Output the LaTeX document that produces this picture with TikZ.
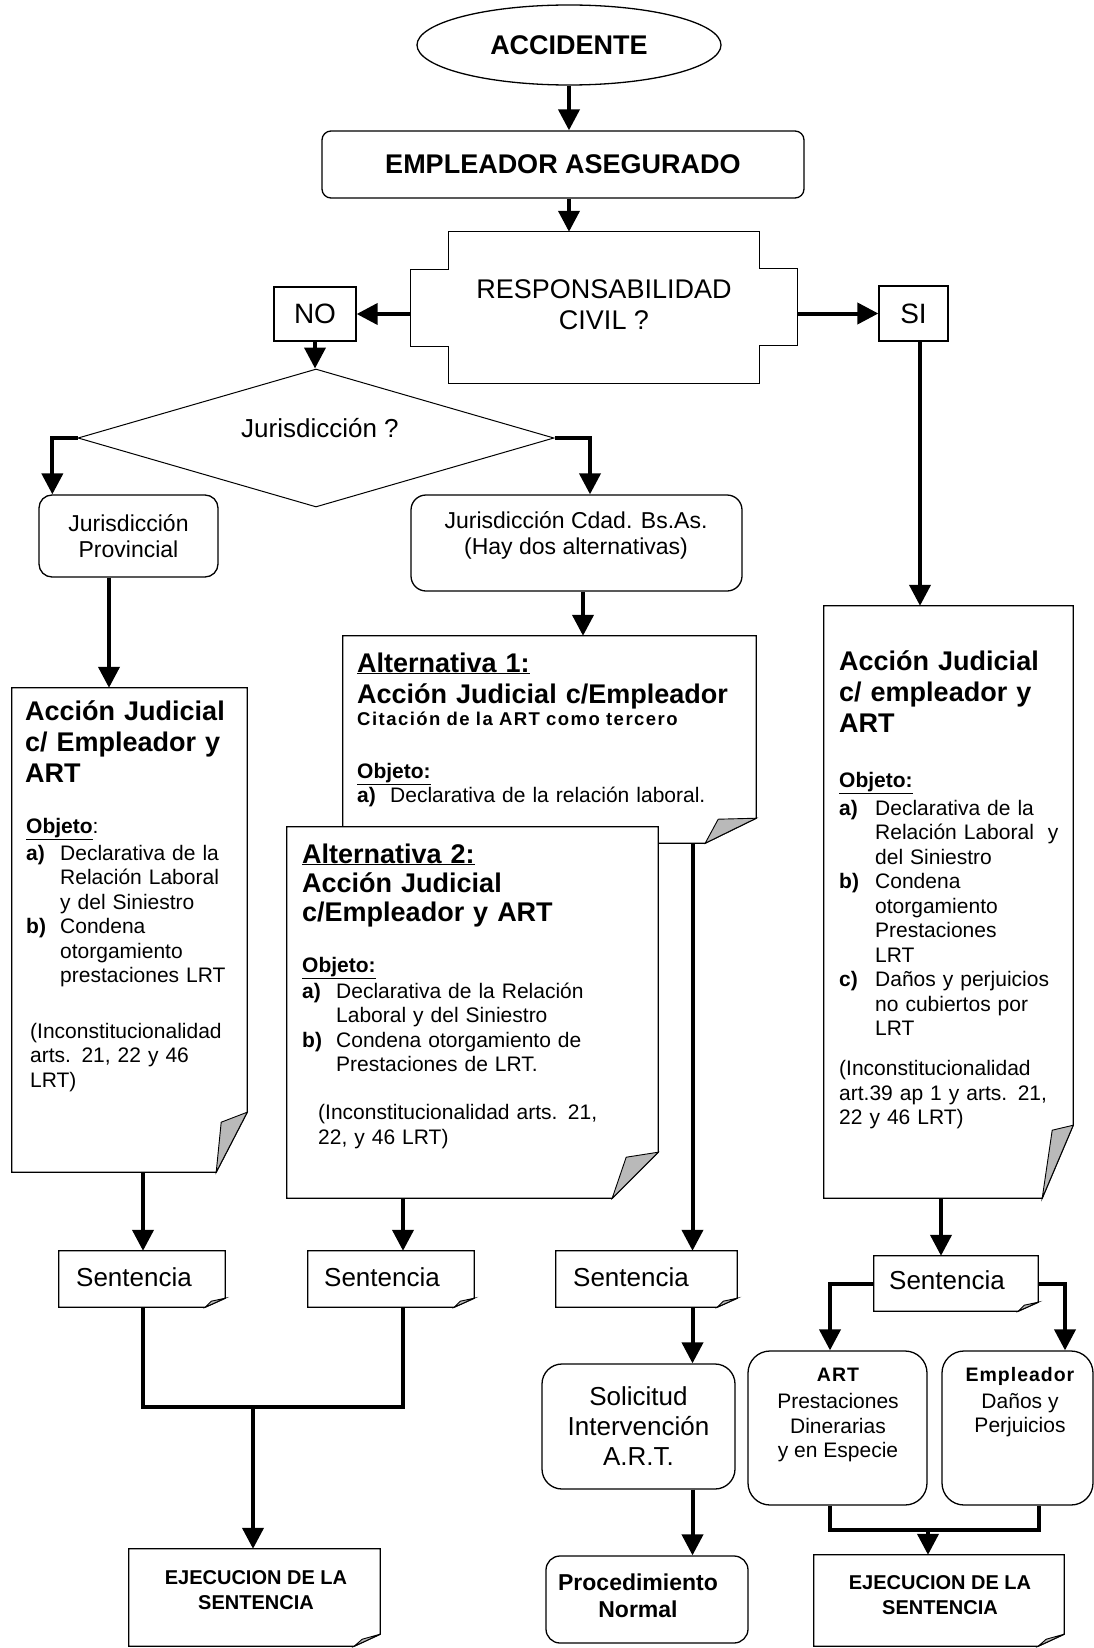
\documentclass[tikz,border=0pt]{standalone}
\usepackage{fontspec}
\setmainfont{Liberation Sans}
\usetikzlibrary{arrows.meta,shapes.geometric}

\newlength{\itemind}
\newcommand{\fsz}[2]{\fontsize{#1pt}{#2pt}\selectfont}
\newcommand{\itm}[1]{\makebox[\itemind][l]{\bfseries #1}}
\newcommand{\itmind}{\hspace*{\itemind}}
% sheet outline with a curled lower right corner:
% node, fold width, fold height, flap tip dx, flap tip dy
\newcommand{\docframe}[5]{%
  \draw[bline,fill=white] (#1.north west) -- (#1.north east)
    -- ([yshift=#3pt]#1.south east) -- ([xshift=-#2pt]#1.south east)
    -- (#1.south west) -- cycle;
  \draw[flap] ([xshift=-#2pt]#1.south east) -- ([shift={(#4,#5)}]#1.south east)
    -- ([yshift=#3pt]#1.south east) -- cycle;
}

\begin{document}
\begin{tikzpicture}[x=1pt,y=-1pt,
  bline/.style={line width=1.3pt,draw=black},
  flap/.style={line width=0.9pt,draw=black,fill=gray!55},
  conn/.style={line width=4pt,-{Triangle[length=21pt,width=21pt]}},
  joinline/.style={line width=4pt},
  box/.style={bline,fill=white,inner sep=0pt,align=center},
  rbox/.style={box,rounded corners=#1},
  rbox/.default=10pt,
  holder/.style={inner sep=0pt},
  lbl/.style={inner sep=0pt,align=center},
  blk/.style={inner sep=0pt,anchor=base west,text width=#1,align=left},
  ttl/.style={font=\fsz{27}{31}\bfseries},
  bod/.style={font=\fsz{21}{24.5}},
]
\useasboundingbox (0,0) rectangle (1094,1648);
\fill[white] (0,0) rectangle (1094,1648);

% ---------- top of the chart ----------
\node[box,ellipse,minimum width=304pt,minimum height=80pt,font=\fsz{27}{30}\bfseries] (acc) at (569,45) {ACCIDENTE};
\node[rbox=9pt,minimum width=482pt,minimum height=67pt,font=\fsz{27}{30}\bfseries] (emp) at (563,164.5) {EMPLEADOR ASEGURADO};

\node[holder,minimum width=386pt,minimum height=151pt] (resp) at (604,307.5) {};
\draw[bline,fill=white] ([xshift=38pt]resp.north west) -- ([xshift=-38pt]resp.north east)
  -- ++(0,37) -- ++(38,0) -- ++(0,77) -- ++(-38,0)
  -- ([xshift=-38pt]resp.south east) -- ([xshift=38pt]resp.south west)
  -- ++(0,-37) -- ++(-38,0) -- ++(0,-77) -- ++(38,0) -- cycle;
\node[lbl,font=\fsz{27}{31}] (resptxt) at (604,305) {RESPONSABILIDAD\\CIVIL ?};

\node[box,minimum width=82pt,minimum height=54pt,font=\fsz{28}{32}] (no) at (315,314) {NO};
\node[box,minimum width=69pt,minimum height=55pt,font=\fsz{28}{32}] (si) at (913.5,313.5) {SI};

\node[draw,diamond,line width=1pt,minimum width=476pt,minimum height=138pt,inner sep=0pt] (diam) at (316,438) {};
\node[lbl,font=\fsz{26}{30}] (diamtxt) at (320,428) {Jurisdicción ?};

\node[rbox=13pt,minimum width=179pt,minimum height=82pt,font=\fsz{23}{26}] (prov) at (128.5,536) {Jurisdicción\\Provincial};
\node[rbox=15pt,minimum width=331pt,minimum height=96pt] (cdad) at (576.5,543) {};
\node[lbl,font=\fsz{23}{26}] (cdadtxt) at (576,535) {Jurisdicción Cdad. Bs.As.\\(Hay dos alternativas)};

% ---------- sheets ----------
\node[holder,minimum width=235pt,minimum height=484pt] (ldoc) at (129.5,930) {};
\node[holder,minimum width=413pt,minimum height=207pt] (alt1) at (549.5,739.5) {};
\node[holder,minimum width=371pt,minimum height=371pt] (alt2) at (472.5,1012.5) {};
\node[holder,minimum width=249pt,minimum height=592pt] (rdoc) at (948.5,902) {};

\docframe{ldoc}{31}{60}{-26}{-50}
\node[blk=225pt,ttl] (ldoct) at (25,720) {Acción Judicial\\c/ Empleador y\\ART};
\node[blk=225pt,bod] (ldocb) at (26,833) {\setlength{\itemind}{34pt}%
\textbf{\underline{Objeto}}:\\[2.5pt]
\itm{a)}Declarativa de la\\
\itmind Relación Laboral\\
\itmind y del Siniestro\\
\itm{b)}Condena\\
\itmind otorgamiento\\
\itmind prestaciones LRT\\[31pt]
\hspace*{4pt}(Inconstitucionalidad\\
\hspace*{4pt}arts. 21, 22 y 46\\
\hspace*{4pt}LRT)};

\docframe{alt1}{51}{25}{-38}{-24}
\node[blk=400pt,ttl] (alt1t) at (357,672) {\underline{Alternativa 1:}\\Acción Judicial c/Empleador};
\node[blk=390pt,font=\fsz{18.5}{20}\bfseries\addfontfeature{LetterSpace=8}] (alt1c) at (357,725) {Citación de la ART como tercero};
\node[blk=390pt,bod] (alt1b) at (357,778) {\setlength{\itemind}{33pt}%
\textbf{\underline{Objeto:}}\\
\itm{a)}Declarativa de la relación laboral.};

\docframe{alt2}{46}{46}{-32}{-41}
\node[blk=360pt,font=\fsz{27}{29}\bfseries] (alt2t) at (302,863) {\underline{Alternativa 2:}\\Acción Judicial\\c/Empleador y ART};
\node[blk=350pt,bod] (alt2b) at (302,972) {\setlength{\itemind}{34pt}%
\textbf{\underline{Objeto:}}\\[1.5pt]
\itm{a)}Declarativa de la Relación\\
\itmind Laboral y del Siniestro\\
\itm{b)}Condena otorgamiento de\\
\itmind Prestaciones de LRT.\\[23.5pt]
\hspace*{16pt}(Inconstitucionalidad arts. 21,\\
\hspace*{16pt}22, y 46 LRT)};

\docframe{rdoc}{31}{73}{-21}{-68}
\node[blk=235pt,ttl] (rdoct) at (839,670) {Acción Judicial\\c/ empleador y\\ART};
\node[blk=235pt,bod] (rdocb) at (839,787) {\setlength{\itemind}{36pt}%
\textbf{\underline{Objeto:}}\\[3.5pt]
\itm{a)}Declarativa de la\\
\itmind Relación Laboral\ \ y\\
\itmind del Siniestro\\
\itm{b)}Condena\\
\itmind otorgamiento\\
\itmind Prestaciones\\
\itmind LRT\\
\itm{c)}Daños y perjuicios\\
\itmind no cubiertos por\\
\itmind LRT\\[15.5pt]
(Inconstitucionalidad\\
art.39 ap 1 y arts. 21,\\
22 y 46 LRT)};

% ---------- sentences ----------
\node[holder,minimum width=166pt,minimum height=56pt] (s1) at (142,1279) {};
\node[holder,minimum width=166pt,minimum height=56pt] (s2) at (391,1279) {};
\node[holder,minimum width=181pt,minimum height=56pt] (s3) at (646.5,1279) {};
\node[holder,minimum width=164pt,minimum height=55pt] (s4) at (956,1283.5) {};
\docframe{s1}{20}{9}{-14}{-6}
\docframe{s2}{20}{9}{-14}{-6}
\docframe{s3}{20}{9}{-14}{-6}
\docframe{s4}{20}{9}{-14}{-6}
\node[lbl,font=\fsz{26}{30}] (s1t) at (134,1277) {Sentencia};
\node[lbl,font=\fsz{26}{30}] (s2t) at (382,1277) {Sentencia};
\node[lbl,font=\fsz{26}{30}] (s3t) at (631,1277) {Sentencia};
\node[lbl,font=\fsz{26}{30}] (s4t) at (947,1280) {Sentencia};

% ---------- bottom row ----------
\node[holder,minimum width=251pt,minimum height=97pt] (ejl) at (254.5,1597.5) {};
\docframe{ejl}{26}{12}{-18}{-7}
\node[lbl,font=\fsz{20}{25}\bfseries] (ejlt) at (256,1590) {EJECUCION DE LA\\SENTENCIA};

\node[rbox=20pt,minimum width=193pt,minimum height=125pt,font=\fsz{26}{30}] (sol) at (638.5,1426.5) {Solicitud\\Intervención\\A.R.T.};
\node[rbox=14pt,minimum width=202pt,minimum height=87pt] (proc) at (647,1599.5) {};
\node[lbl,font=\fsz{23}{27}\bfseries] (proct) at (638,1596) {Procedimiento\\Normal};

\node[rbox=22pt,minimum width=179pt,minimum height=154pt] (artb) at (837.5,1428) {};
\node[lbl,font=\fsz{21}{24.5}] (artt) at (838,1415) {{\fsz{19.5}{24.5}\bfseries\addfontfeature{LetterSpace=5}ART}\\[2.5pt]Prestaciones\\Dinerarias\\y en Especie};
\node[rbox=22pt,minimum width=151pt,minimum height=154pt] (empb) at (1017.5,1428) {};
\node[lbl,font=\fsz{21}{24.5}] (empt) at (1020,1402) {{\fsz{19.5}{24.5}\bfseries\addfontfeature{LetterSpace=5}Empleador}\\[2.5pt]Daños y\\Perjuicios};

\node[holder,minimum width=250pt,minimum height=91pt] (ejr) at (939,1600.5) {};
\docframe{ejr}{26}{12}{-18}{-7}
\node[lbl,font=\fsz{20}{25}\bfseries] (ejrt) at (940,1595) {EJECUCION DE LA\\SENTENCIA};

\coordinate (jl) at (253,1407);
\coordinate (jr) at (928,1530);

% ---------- connectors ----------
\draw[conn] (acc.south) -- (acc.south |- emp.north);
\draw[conn] (acc.south |- emp.south) -- (acc.south |- resp.north);
\draw[conn] (resp.west |- no.east) -- (no.east);
\draw[conn] (resp.east |- si.west) -- (si.west);
\draw[conn] (no.south) -- (no.south |- diam.north);
\draw[conn] (diam.west) -| ([xshift=14pt]prov.north west);
\draw[conn] (diam.east) -| ([xshift=13.5pt]cdad.north);
\draw[conn] ([xshift=6.5pt]si.south) -- ([xshift=6.5pt]si.south |- rdoc.north);
\draw[conn] ([xshift=-19.5pt]prov.south) -- ([xshift=-19.5pt]prov.south |- ldoc.north);
\draw[conn] ([xshift=6.5pt]cdad.south) -- ([xshift=6.5pt]cdad.south |- alt1.north);
\draw[conn] ([xshift=1pt]s1.north |- ldoc.south) -- ([xshift=1pt]s1.north);
\draw[conn] ([xshift=12pt]s2.north |- alt2.south) -- ([xshift=12pt]s2.north);
\draw[conn] ([xshift=46pt]s3.north |- alt1.south) -- ([xshift=46pt]s3.north);
\draw[conn] ([xshift=-15pt]s4.north |- rdoc.south) -- ([xshift=-15pt]s4.north);
\draw[joinline] ([xshift=1pt]s1.south) |- (jl) -| ([xshift=12pt]s2.south);
\draw[conn] (jl) -- (jl |- ejl.north);
\draw[conn] ([xshift=46pt]s3.south) -- ([xshift=46pt]s3.south |- sol.north);
\draw[conn] ([xshift=46pt]s3.south |- sol.south) -- ([xshift=46pt]s3.south |- proc.north);
\draw[conn] (s4.west) -| ([xshift=-7.5pt]artb.north);
\draw[conn] (s4.east) -| ([xshift=47.5pt]empb.north);
\draw[joinline] ([xshift=-7.5pt]artb.south) |- (jr) -| ([xshift=21.5pt]empb.south);
\draw[conn] (jr) -- (jr |- ejr.north);
\end{tikzpicture}
\end{document}
